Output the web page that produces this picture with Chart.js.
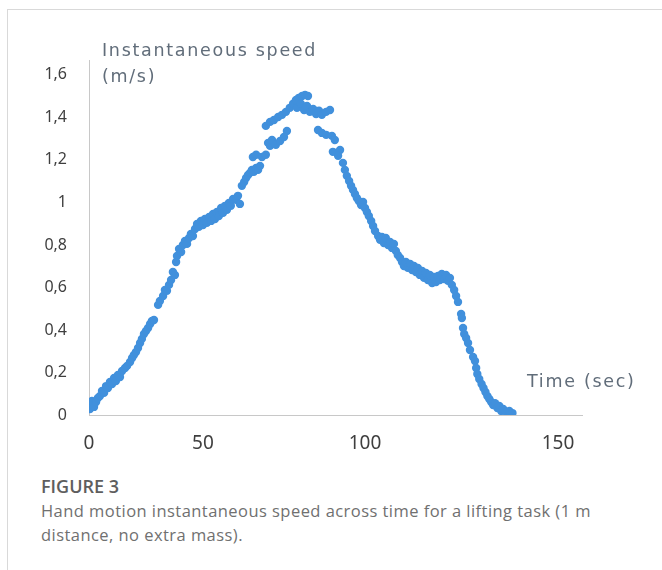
<!DOCTYPE html>
<html>
<head>
<meta charset="utf-8">
<script src="https://cdn.jsdelivr.net/npm/chart.js@4.4.1/dist/chart.umd.min.js"></script>
<style>
  html, body { margin: 0; padding: 0; background: #fff; }
  #frame { position: absolute; left: 7px; top: 9px; width: 660px; height: 570px;
           border-left: 1px solid #d9d9d9; border-top: 1px solid #d9d9d9; }
  #wrap { position: absolute; left: 0; top: 0; width: 662px; height: 470px; }
  .cap { position: absolute; left: 41px; font-family: "Open Sans", sans-serif; }
  #fig { top: 474px; font-size: 18px; font-weight: 600; color: #5e5e5e; }
  #txt { top: 499px; font-size: 16.5px; line-height: 24px; letter-spacing: 0.45px; color: #707070; width: 610px; }
</style>
</head>
<body>
<div id="frame"></div>
<div id="wrap"><canvas id="speedChart" width="662" height="470"></canvas></div>
<div class="cap" id="fig">FIGURE 3</div>
<div class="cap" id="txt">Hand motion instantaneous speed across time for a lifting task (1 m<br>distance, no extra mass).</div>
<script>
// time (s) and hand speed (m/s)
const timeSec = [
  0.0, 0.4, 1.3, 2.2, 3.1, 3.9, 4.8, 5.7, 6.6, 7.5, 8.3, 9.2, 10.1, 11.0, 11.8, 12.7, 13.6, 14.5,
  15.8, 16.7, 18.0, 18.9, 19.7, 20.6, 21.5, 22.4, 23.2, 24.1, 25.0, 25.9, 26.8, 27.6, 28.5,
  30.3, 31.1, 32.5, 33.3, 34.2, 35.1, 36.0, 36.8, 37.7, 38.2, 38.6, 39.5, 40.4, 41.2, 42.1,
  43.0, 43.9, 44.7, 45.6, 46.5, 47.4, 48.2, 49.1, 50.0, 50.6, 51.2, 51.9, 52.5, 53.1, 53.7,
  54.3, 54.9, 55.6, 56.2, 56.8, 57.4, 58.0, 58.6, 59.3, 60.2, 60.8, 61.4, 62.0, 62.7, 63.3,
  63.9, 64.5, 65.1, 65.7, 66.4, 67.0, 67.6, 65.4, 66.4, 68.2, 69.4, 70.1, 70.7, 71.3, 72.5,
  73.8, 75.0, 75.9, 69.4, 70.7, 71.9, 73.2, 74.4, 75.6, 76.8, 77.8, 78.7, 79.6, 80.6, 81.5,
  82.4, 79.0, 80.2, 81.2, 82.1, 83.0, 84.0, 84.9, 85.8, 86.7, 88.0, 89.2, 85.5, 86.7, 88.0,
  89.8, 90.7, 90.1, 92.3, 91.7, 93.2, 93.8, 94.4, 95.1, 95.7, 96.3, 96.9, 97.5, 98.1, 98.8,
  99.4, 100.0, 100.5, 101.0, 101.6, 102.1, 102.6, 103.4, 103.9, 104.4, 104.9, 105.4, 106.0,
  106.5, 107.0, 107.5, 108.0, 108.5, 109.1, 109.6, 110.1, 110.6, 111.1, 111.7, 112.2, 112.7,
  113.2, 113.7, 114.2, 114.8, 115.3, 115.8, 116.3, 116.8, 117.4, 117.9, 118.4, 118.9, 119.4,
  119.9, 120.5, 121.0, 121.5, 122.0, 122.5, 123.1, 123.6, 124.1, 124.9, 125.1, 125.4, 125.7,
  126.2, 126.7, 127.2, 128.0, 128.5, 128.8, 129.1, 129.6, 130.2, 130.7, 131.2, 131.7, 132.2,
  132.7, 133.2, 133.7, 134.3, 134.8, 135.3, 135.8, 136.6, 137.4, 138.2
];
const speed = [
  0.056, 0.028, 0.066, 0.038, 0.061, 0.080, 0.089, 0.113, 0.104, 0.136, 0.127, 0.155, 0.146, 0.174, 0.160, 0.188, 0.179, 0.207,
  0.221, 0.231, 0.249, 0.268, 0.282, 0.296, 0.315, 0.339, 0.358, 0.381, 0.395, 0.409, 0.428, 0.442, 0.447,
  0.518, 0.536, 0.560, 0.588, 0.584, 0.612, 0.635, 0.673, 0.659, 0.720, 0.748, 0.781, 0.767, 0.800, 0.819,
  0.805, 0.833, 0.852, 0.842, 0.875, 0.899, 0.885, 0.913, 0.894, 0.922, 0.904, 0.932, 0.913, 0.946, 0.922,
  0.955, 0.936, 0.974, 0.951, 0.984, 0.965, 0.998, 0.984, 1.016, 1.012, 1.031, 0.993, 1.078, 1.096, 1.115,
  1.129, 1.139, 1.153, 1.144, 1.162, 1.153, 1.172, 1.214, 1.224, 1.214, 1.224, 1.280, 1.266, 1.294, 1.271,
  1.289, 1.308, 1.336, 1.360, 1.379, 1.388, 1.402, 1.412, 1.426, 1.445, 1.464, 1.482, 1.492, 1.501, 1.506,
  1.501, 1.445, 1.464, 1.435, 1.454, 1.426, 1.440, 1.416, 1.431, 1.412, 1.426, 1.435, 1.341, 1.327, 1.318,
  1.313, 1.294, 1.238, 1.247, 1.219, 1.186, 1.153, 1.125, 1.101, 1.078, 1.059, 1.040, 1.021, 1.007, 0.988,
  1.002, 0.974, 0.955, 0.936, 0.913, 0.889, 0.866, 0.842, 0.824, 0.838, 0.809, 0.833, 0.800,
  0.814, 0.786, 0.805, 0.772, 0.753, 0.739, 0.720, 0.701, 0.720, 0.692, 0.711, 0.682, 0.701,
  0.673, 0.692, 0.659, 0.678, 0.645, 0.668, 0.635, 0.659, 0.621, 0.649, 0.626, 0.654, 0.635,
  0.664, 0.640, 0.659, 0.631, 0.645, 0.612, 0.588, 0.560, 0.532, 0.475, 0.456, 0.409, 0.381,
  0.362, 0.339, 0.306, 0.273, 0.254, 0.221, 0.193, 0.169, 0.146, 0.127, 0.108, 0.089, 0.075,
  0.061, 0.047, 0.056, 0.033, 0.042, 0.019, 0.028, 0.014, 0.019, 0.009
];

const xTicks = [0, 50, 100, 150];
const yTicks = [0, 0.2, 0.4, 0.6, 0.8, 1, 1.2, 1.4, 1.6];
const yTickLabels = ['0', '0,2', '0,4', '0,6', '0,8', '1', '1,2', '1,4', '1,6'];

// the source figure's time axis is not evenly spaced; map value -> fraction piecewise
const warpValues = [0, 50, 100, 150, 156.2];
const warpFractions = [0, 0.2312, 0.5598, 0.9513, 1];

function warp(v) {
  for (let i = 1; i < warpValues.length; i++) {
    if (v <= warpValues[i] || i === warpValues.length - 1) {
      const a = warpValues[i - 1], b = warpValues[i];
      return warpFractions[i - 1] + (v - a) / (b - a) * (warpFractions[i] - warpFractions[i - 1]);
    }
  }
}
function unwarp(f) {
  for (let i = 1; i < warpFractions.length; i++) {
    if (f <= warpFractions[i] || i === warpFractions.length - 1) {
      const a = warpFractions[i - 1], b = warpFractions[i];
      return warpValues[i - 1] + (f - a) / (b - a) * (warpValues[i] - warpValues[i - 1]);
    }
  }
}

class WarpedScale extends Chart.LinearScale {
  getPixelForValue(value) {
    if (value === null || isNaN(value)) return NaN;
    return this.getPixelForDecimal(warp(value));
  }
  getValueForPixel(pixel) {
    return unwarp(this.getDecimalForPixel(pixel));
  }
}
WarpedScale.id = 'warped';
WarpedScale.defaults = {};
Chart.register(WarpedScale);

const axisTitles = {
  id: 'axisTitles',
  afterDraw(chart) {
    const ctx = chart.ctx;
    ctx.save();
    ctx.fillStyle = '#616d7a';
    ctx.font = '17.5px "DejaVu Sans", sans-serif';
    ctx.textBaseline = 'middle';
    ctx.textAlign = 'left';
    ctx.letterSpacing = '1.7px';
    ctx.fillText('Instantaneous speed', 102, 51);
    ctx.fillText('(m/s)', 102, 77);
    ctx.fillText('Time (sec)', 527, 382);
    ctx.restore();
  }
};

const points = timeSec.map((t, i) => ({ x: t, y: speed[i] }));

new Chart(document.getElementById('speedChart'), {
  type: 'scatter',
  data: {
    datasets: [{
      label: 'Instantaneous speed',
      data: points,
      backgroundColor: '#4190dc',
      borderWidth: 0,
      pointRadius: 4.2,
      pointHoverRadius: 4.2
    }]
  },
  options: {
    responsive: false,
    animation: false,
    devicePixelRatio: 1,
    layout: { padding: { top: 60, right: 80, left: 0, bottom: 0 } },
    plugins: { legend: { display: false }, tooltip: { enabled: false } },
    scales: {
      x: {
        type: 'warped',
        min: 0,
        max: 156.2,
        afterBuildTicks: (scale) => { scale.ticks = xTicks.map(v => ({ value: v })); },
        afterFit: (scale) => { scale.height = 55; },
        grid: { display: true, drawOnChartArea: false, drawTicks: false },
        border: { display: true, color: '#c8c8c8', width: 1 },
        ticks: {
          padding: 17,
          color: '#3f3f3f',
          font: { family: '"Noto Sans", sans-serif', size: 19 },
          maxRotation: 0,
          callback: (v) => String(v)
        }
      },
      y: {
        min: 0,
        max: 1.67,
        afterBuildTicks: (scale) => { scale.ticks = yTicks.map(v => ({ value: v })); },
        afterFit: (scale) => { scale.width = 89; },
        grid: { display: true, drawOnChartArea: false, drawTicks: false },
        border: { display: true, color: '#c8c8c8', width: 1 },
        ticks: {
          padding: 22,
          color: '#3f3f3f',
          font: { family: '"Noto Sans", sans-serif', size: 16 },
          callback: (v, i) => yTickLabels[i]
        }
      }
    }
  },
  plugins: [axisTitles]
});
</script>
</body>
</html>
